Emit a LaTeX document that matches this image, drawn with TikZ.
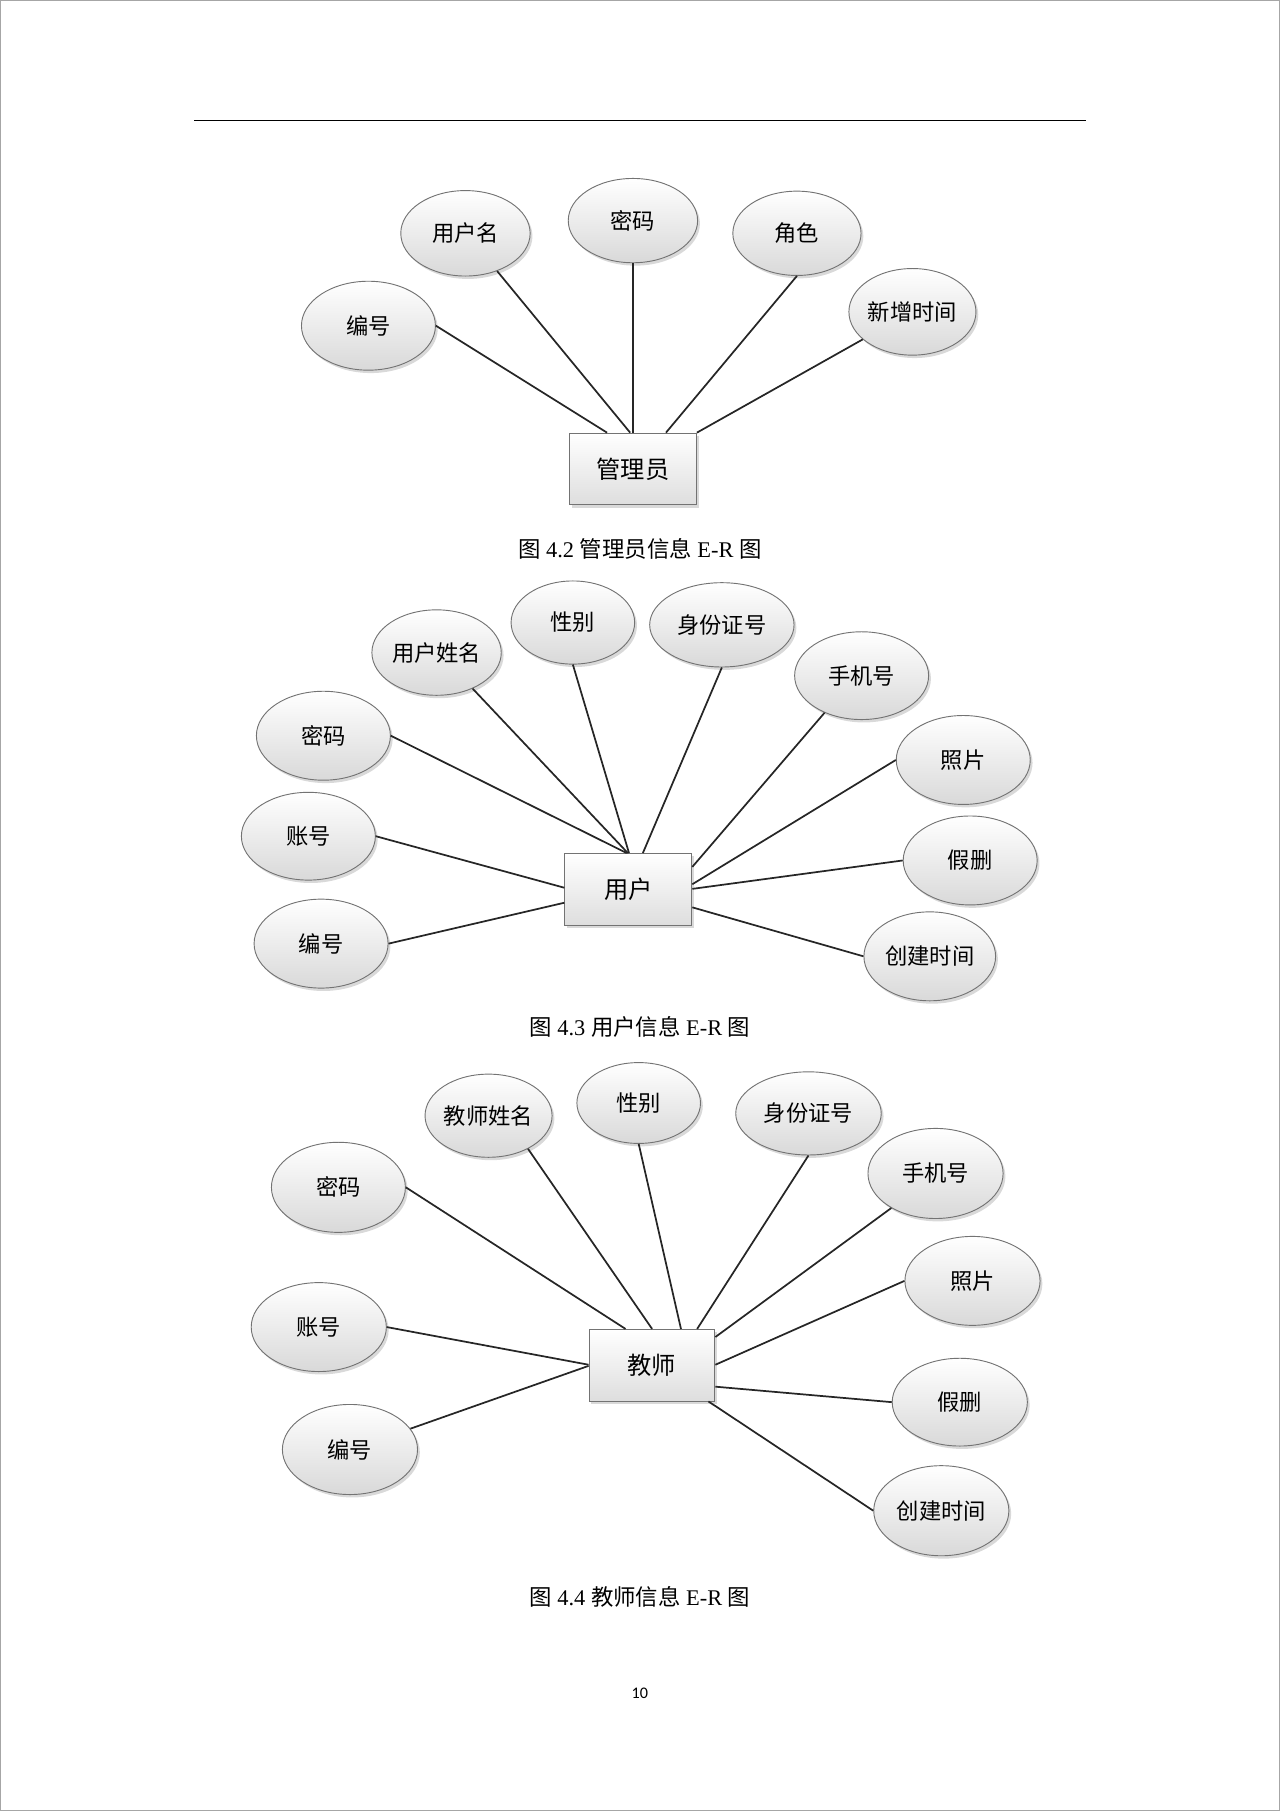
\documentclass[tikz,border=0pt]{standalone}
\usepackage{fontspec}
\setmainfont{Liberation Serif}
\newfontfamily\cjk{Noto Sans CJK SC}
\newfontfamily\calfont{Carlito}
\usetikzlibrary{shapes.geometric,shadows,calc}
\tikzset{
  attr/.style={ellipse, draw=black!55, line width=0.8pt, top color=white, bottom color=black!15,
    minimum width=116pt, minimum height=77pt, inner sep=0pt,
    font=\cjk\fontsize{19.3}{19.3}\selectfont,
    drop shadow={opacity=0.3, shadow xshift=2pt, shadow yshift=-2.5pt}},
  ent/.style={rectangle, draw=black!55, line width=0.8pt, top color=white, bottom color=black!13,
    minimum width=110pt, minimum height=62pt, inner sep=0pt,
    font=\cjk\fontsize{21}{21}\selectfont,
    drop shadow={opacity=0.3, shadow xshift=2pt, shadow yshift=-2.5pt}},
  conn/.style={draw=black!85, line width=1.5pt},
  captxt/.style={font=\fontsize{19.4}{20}\selectfont},
}
\begin{document}
\begin{tikzpicture}[x=1pt,y=-1pt]
\useasboundingbox (0,0) rectangle (1108,1568);
\draw[black!35, line width=0.8pt] (0.5,0.5) rectangle (1107.5,1567.5);
\coordinate (hl) at (168,104);
\coordinate (hr) at (940,104);
\draw[line width=0.8pt] (hl) -- (hr);

% ---------- Figure 4.2 ----------
\node[ent] (a0) at (548,406) {管理员};
\node[attr] (a1) at (319,282) {编号};
\node[attr, minimum width=112pt, minimum height=74pt] (a2) at (403,202) {用户名};
\node[attr, minimum width=112pt, minimum height=73pt] (a3) at (548,191) {密码};
\node[attr, minimum width=111pt, minimum height=73pt] (a4) at (690,202) {角色};
\node[attr, minimum width=110pt, minimum height=75pt] (a5) at (790,270) {新增时间};
\draw[conn] (a1.east) -- ($(a0.north west)+(33,0)$);
\draw[conn] (a2.-50) -- ($(a0.north west)+(53,0)$);
\draw[conn] (a3.south) -- (a0.north);
\draw[conn] (a4.south) -- ($(a0.north west)+(84,0)$);
\draw[conn] (a5.209) -- (a0.north east);
\node[captxt] (t1) at (554,475) {{\cjk 图} 4.2 {\cjk 管理员信息} E-R {\cjk 图}};

% ---------- Figure 4.3 ----------
\node[ent] (b0) at (544,770) {用户};
\node[attr] (b1) at (280,637) {密码};
\node[attr, minimum width=112pt, minimum height=74pt] (b2) at (378,565) {用户姓名};
\node[attr, minimum width=107pt, minimum height=72pt] (b3) at (496,539) {性别};
\node[attr, minimum width=125pt, minimum height=73pt] (b4) at (625,541) {身份证号};
\node[attr, minimum height=76pt] (b5) at (746,585) {手机号};
\node[attr] (b6) at (834,658) {照片};
\node[attr] (b7) at (840,745) {假删};
\node[attr, minimum width=114pt] (b8) at (805,828) {创建时间};
\node[attr, minimum height=76pt] (b9) at (267,724) {账号};
\node[attr] (b10) at (278,817) {编号};
\draw[conn] (b1.east) -- ($(b0.north west)+(54,0)$);
\draw[conn] (b2.-45) -- ($(b0.north west)+(55,0)$);
\draw[conn] (b3.south) -- ($(b0.north west)+(56,0)$);
\draw[conn] (b4.south) -- ($(b0.north west)+(68,0)$);
\draw[conn] (b5.225) -- ($(b0.north east)+(0,12)$);
\draw[conn] (b6.west) -- ($(b0.north east)+(0,27)$);
\draw[conn] (b7.west) -- ($(b0.north east)+(0,31)$);
\draw[conn] (b8.west) -- ($(b0.north east)+(0,47)$);
\draw[conn] (b9.east) -- ($(b0.north west)+(0,30)$);
\draw[conn] (b10.east) -- ($(b0.north west)+(0,43)$);
\node[captxt] (t2) at (554,889) {{\cjk 图} 4.3 {\cjk 用户信息} E-R {\cjk 图}};

% ---------- Figure 4.4 ----------
\node[ent, minimum width=109pt] (c0) at (564.5,1182) {教师};
\node[attr, minimum height=78pt] (c1) at (293,1028) {密码};
\node[attr, minimum width=110pt, minimum height=72pt] (c2) at (423,966) {教师姓名};
\node[attr, minimum width=107pt, minimum height=70pt] (c3) at (553,955) {性别};
\node[attr, minimum width=126pt, minimum height=72pt] (c4) at (700,964) {身份证号};
\node[attr, minimum width=117pt, minimum height=78pt] (c5) at (810,1016) {手机号};
\node[attr, minimum width=117pt] (c6) at (842,1109) {照片};
\node[attr, minimum width=117pt, minimum height=76pt] (c7) at (831,1214) {假删};
\node[attr, minimum width=117pt, minimum height=78pt] (c8) at (815,1308) {创建时间};
\node[attr, minimum width=117pt] (c9) at (276,1149) {账号};
\node[attr, minimum width=117pt, minimum height=78pt] (c10) at (303,1255) {编号};
\draw[conn] (c1.east) -- ($(c0.north west)+(32,0)$);
\draw[conn] (c2.-40) -- ($(c0.north west)+(55,0)$);
\draw[conn] (c3.south) -- ($(c0.north west)+(80,0)$);
\draw[conn] (c4.south) -- ($(c0.north west)+(94,0)$);
\draw[conn] (c5.218) -- ($(c0.north east)+(0,7)$);
\draw[conn] (c6.west) -- ($(c0.north east)+(0,31)$);
\draw[conn] (c7.west) -- ($(c0.north east)+(0,50)$);
\draw[conn] (c8.west) -- ($(c0.south east)+(-6,0)$);
\draw[conn] (c9.east) -- ($(c0.north west)+(0,31)$);
\draw[conn] (c10.19) -- ($(c0.north west)+(0,32)$);
\node[captxt] (t3) at (554,1383) {{\cjk 图} 4.4 {\cjk 教师信息} E-R {\cjk 图}};

\node[font=\calfont\fontsize{14}{14}\selectfont] (pn) at (554,1466) {10};
\end{tikzpicture}
\end{document}
